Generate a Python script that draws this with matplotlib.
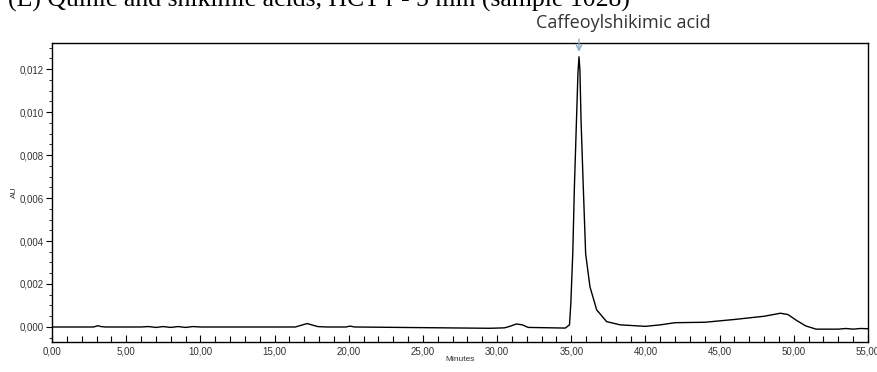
import matplotlib
matplotlib.use("Agg")
import matplotlib.pyplot as plt
from matplotlib.ticker import MultipleLocator, FuncFormatter
import matplotlib.transforms as mtransforms

# Retention time (min) and absorbance (AU)
time_min = [0.0, 2.8, 3.1, 3.3, 3.6, 6.0, 6.5, 7.0, 7.5, 8.0, 8.5, 9.0, 9.5, 10.0,
            16.4, 16.9, 17.2, 17.5, 17.9, 18.5, 19.8, 20.1, 20.4, 29.5, 30.5,
            30.9, 31.3, 31.7, 32.1, 34.6, 34.88, 34.97, 35.10, 35.21, 35.35,
            35.45, 35.52, 35.58, 35.66, 35.81, 35.97, 36.26, 36.71, 37.38, 38.3,
            40.0, 41.0, 42.0, 44.0, 46.0, 48.0, 49.1, 49.6, 50.2, 50.8, 51.5,
            53.0, 53.5, 54.0, 54.5, 55.0]
absorbance = [0.0, 0.0, 0.00006, 0.00002, 0.0, 0.0, 0.00002, -0.00002, 0.00002,
              -0.00002, 0.00002, -0.00002, 0.00002, 0.0,
              0.0, 0.0001, 0.00016, 0.0001, 0.00002, 0.0, 0.0, 0.00004, 0.0,
              -0.00006, -0.00004,
              0.00004, 0.00014, 0.0001, -0.00002, -0.00005, 0.0001, 0.0011,
              0.0034, 0.0065, 0.0096,
              0.0118, 0.01257, 0.0120, 0.0096, 0.0065, 0.0034, 0.00187,
              0.0008, 0.00025, 0.0001,
              0.00003, 0.0001, 0.0002, 0.00022, 0.00035, 0.0005, 0.00064,
              0.00058, 0.0003, 0.00005, -0.0001,
              -0.0001, -0.00007, -0.0001, -0.00007, -0.00008]

x_ticks = [0, 5, 10, 15, 20, 25, 30, 35, 40, 45, 50, 55]
y_ticks = [0.0, 0.002, 0.004, 0.006, 0.008, 0.010, 0.012]

peak_name = "Caffeoylshikimic acid"
peak_time = 35.52
title_text = "(E) Quinic and shikimic acids, HCT r - 5 min (sample 1028)"

fig = plt.figure(figsize=(8.77, 3.72), dpi=100)
ax = fig.add_axes([52/877, 30/372, 816/877, 299/372])

ax.plot(time_min, absorbance, color="black", lw=1.0)
ax.set_xlim(0, 55)
ax.set_ylim(-0.000698, 0.01321)

lab_font = dict(family="Liberation Sans", color="#333333")
ax.set_xticks(x_ticks)
ax.set_yticks(y_ticks)
ax.xaxis.set_minor_locator(MultipleLocator(1))
ax.yaxis.set_minor_locator(MultipleLocator(0.0005))
ax.xaxis.set_major_formatter(FuncFormatter(lambda v, p: f"{v:.2f}".replace(".", ",")))
ax.yaxis.set_major_formatter(FuncFormatter(lambda v, p: f"{v:.3f}".replace(".", ",")))
ax.tick_params(axis="x", which="major", direction="in", length=5, width=0.8, pad=3,
               labelsize=7, labelcolor="#333333")
ax.tick_params(axis="x", which="minor", direction="in", length=4, width=0.8)
ax.tick_params(axis="y", which="major", direction="out", length=4, width=0.8, pad=2,
               labelsize=7, labelcolor="#333333")
ax.tick_params(axis="y", which="minor", direction="out", length=2, width=0.6)
for lbl in ax.get_xticklabels() + ax.get_yticklabels():
    lbl.set_family("Liberation Sans")
for s in ax.spines.values():
    s.set_linewidth(1.0)
    s.set_color("black")

ax.set_xlabel("Minutes", fontsize=6, labelpad=0, **lab_font)
ax.set_ylabel("AU", fontsize=6, labelpad=1, **lab_font)

# peak annotation
trans = mtransforms.blended_transform_factory(ax.transData, fig.transFigure)
ax.annotate("", xy=(peak_time, 0.0128), xycoords="data",
            xytext=(peak_time, 1 - 39/372), textcoords=trans,
            arrowprops=dict(arrowstyle="->", color="#8fa8c8", lw=1.0,
                            shrinkA=0, shrinkB=0),
            annotation_clip=False)
fig.text(623/877, 1 - 23/372, peak_name, ha="center", va="center",
         fontsize=13, family="Open Sans", color="#333333")

fig.text(8/877, 1 - 7/372, title_text, ha="left", va="baseline",
         fontsize=18.5, family="Liberation Serif", color="black")

fig.savefig("out.png", dpi=100)
